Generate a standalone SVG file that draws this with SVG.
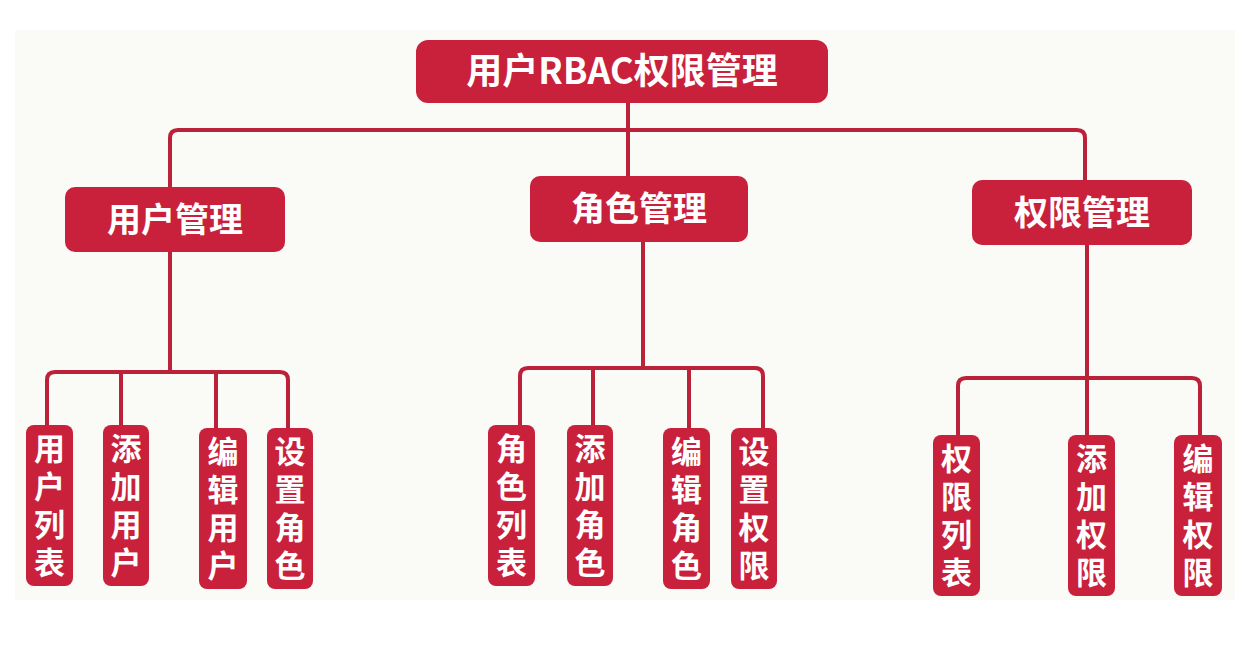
<svg xmlns="http://www.w3.org/2000/svg" width="1250" height="661" viewBox="0 0 1250 661">
<style>
.box{fill:#c9213b;}
.t{fill:#ffffff;font-family:"Noto Sans CJK SC","Noto Sans",sans-serif;font-weight:bold;text-anchor:middle;}
.root{font-size:36px;}
.l2{font-size:34px;}
.leaf{font-size:31px;writing-mode:vertical-rl;letter-spacing:7px;}
.c{fill:none;stroke:#bb2139;stroke-width:4;stroke-linejoin:round;}
</style>
<rect x="0" y="0" width="1250" height="661" fill="#ffffff"/>
<rect x="15" y="30" width="1220" height="570" fill="#fafaf7"/>
<g id="connectors">
<path class="c" d="M628,103 V176"/>
<path class="c" d="M170,187 V138 Q170,130 178,130 H1077 Q1085,130 1085,138 V180"/>
<path class="c" d="M170,252 V372"/>
<path class="c" d="M47,425 V380 Q47,372 55,372 H280 Q288,372 288,380 V428"/>
<path class="c" d="M121,372 V425"/>
<path class="c" d="M216,372 V428"/>
<path class="c" d="M643,242 V368"/>
<path class="c" d="M520,425 V376 Q520,368 528,368 H755 Q763,368 763,376 V428"/>
<path class="c" d="M593,368 V425"/>
<path class="c" d="M689,368 V428"/>
<path class="c" d="M1087,245 V435"/>
<path class="c" d="M958,435 V386 Q958,378 966,378 H1192 Q1200,378 1200,386 V435"/>
</g>
<g id="root">
<rect class="box" x="416" y="40" width="412" height="63" rx="12"/>
<text class="t root" x="622" y="84">用户RBAC权限管理</text>
</g>
<g id="user-mgmt">
<rect class="box" x="65" y="187" width="220" height="65" rx="10"/>
<text class="t l2" x="175" y="232">用户管理</text>
</g>
<g id="role-mgmt">
<rect class="box" x="530" y="176" width="218" height="66" rx="10"/>
<text class="t l2" x="639" y="221">角色管理</text>
</g>
<g id="perm-mgmt">
<rect class="box" x="972" y="180" width="220" height="65" rx="10"/>
<text class="t l2" x="1082" y="225">权限管理</text>
</g>
<g id="user-list">
<rect class="box" x="26" y="425" width="47" height="161" rx="8"/>
<text class="t leaf" x="49.5" y="509">用户列表</text>
</g>
<g id="user-add">
<rect class="box" x="103" y="425" width="46" height="161" rx="8"/>
<text class="t leaf" x="126" y="509">添加用户</text>
</g>
<g id="user-edit">
<rect class="box" x="199" y="428" width="48" height="161" rx="8"/>
<text class="t leaf" x="223" y="512">编辑用户</text>
</g>
<g id="user-setrole">
<rect class="box" x="267" y="428" width="46" height="161" rx="8"/>
<text class="t leaf" x="290" y="512">设置角色</text>
</g>
<g id="role-list">
<rect class="box" x="488" y="425" width="47" height="161" rx="8"/>
<text class="t leaf" x="511.5" y="509">角色列表</text>
</g>
<g id="role-add">
<rect class="box" x="567" y="425" width="46" height="161" rx="8"/>
<text class="t leaf" x="590" y="509">添加角色</text>
</g>
<g id="role-edit">
<rect class="box" x="663" y="428" width="47" height="161" rx="8"/>
<text class="t leaf" x="686.5" y="512">编辑角色</text>
</g>
<g id="role-setperm">
<rect class="box" x="731" y="428" width="46" height="161" rx="8"/>
<text class="t leaf" x="754" y="512">设置权限</text>
</g>
<g id="perm-list">
<rect class="box" x="933" y="435" width="47" height="161" rx="8"/>
<text class="t leaf" x="956.5" y="519">权限列表</text>
</g>
<g id="perm-add">
<rect class="box" x="1068" y="435" width="47" height="161" rx="8"/>
<text class="t leaf" x="1091.5" y="519">添加权限</text>
</g>
<g id="perm-edit">
<rect class="box" x="1174" y="435" width="48" height="161" rx="8"/>
<text class="t leaf" x="1198" y="519">编辑权限</text>
</g>
</svg>
